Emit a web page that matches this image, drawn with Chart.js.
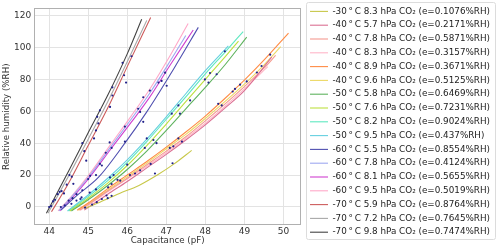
<!DOCTYPE html>
<html><head><meta charset="utf-8">
<script src="https://cdn.jsdelivr.net/npm/chart.js@4.4.1/dist/chart.umd.min.js"></script>
<style>html,body{margin:0;padding:0;background:#fff}#w{width:500px;height:250px;position:relative}</style>
</head><body><div id="w"><canvas id="c" width="500" height="250"></canvas></div>
<script>
// ---- tick labels ----
const xTicks = [44, 45, 46, 47, 48, 49, 50];
const yTicks = [0, 20, 40, 60, 80, 100, 120];

// ---- series labels & colours ----
const seriesLabels = [
  "-30\u2009°\u2009C 8.3 hPa CO\u2082 (e=0.1076%RH)",
  "-40\u2009°\u2009C 5.7 hPa CO\u2082 (e=0.2171%RH)",
  "-40\u2009°\u2009C 7.8 hPa CO\u2082 (e=0.5871%RH)",
  "-40\u2009°\u2009C 8.3 hPa CO\u2082 (e=0.3157%RH)",
  "-40\u2009°\u2009C 8.9 hPa CO\u2082 (e=0.3671%RH)",
  "-40\u2009°\u2009C 9.6 hPa CO\u2082 (e=0.5125%RH)",
  "-50\u2009°\u2009C 5.8 hPa CO\u2082 (e=0.6469%RH)",
  "-50\u2009°\u2009C 7.6 hPa CO\u2082 (e=0.7231%RH)",
  "-50\u2009°\u2009C 8.2 hPa CO\u2082 (e=0.9024%RH)",
  "-50\u2009°\u2009C 9.5 hPa CO\u2082 (e=0.437%RH)",
  "-60\u2009°\u2009C 5.5 hPa CO\u2082 (e=0.8554%RH)",
  "-60\u2009°\u2009C 7.8 hPa CO\u2082 (e=0.4124%RH)",
  "-60\u2009°\u2009C 8.1 hPa CO\u2082 (e=0.5655%RH)",
  "-60\u2009°\u2009C 9.5 hPa CO\u2082 (e=0.5019%RH)",
  "-70\u2009°\u2009C 5.9 hPa CO\u2082 (e=0.8764%RH)",
  "-70\u2009°\u2009C 7.2 hPa CO\u2082 (e=0.7645%RH)",
  "-70\u2009°\u2009C 9.8 hPa CO\u2082 (e=0.7474%RH)"
];
const seriesColors = [
  "#c8c84a", "#db7093", "#f59a90", "#ffb6c8", "#ff8c45", "#ecd865",
  "#5fb35f", "#bde040", "#5ee8c0", "#66d0e0",
  "#5050b0", "#9fa8f0", "#d040d0", "#ffa8c8",
  "#cd5c5c", "#a8a8a8", "#444444"
];

// ---- fitted curves [capacitance pF, RH %] ----
const fitM30_83 = [[44.9,-1],[45.3,3],[45.8,8.5],[46.3,13.5],[46.8,20.5],[47.2,27],[47.65,35.5]];
const fitM40_57 = [[44.9,-2],[45.5,8],[46.0,16],[46.5,24.5],[47.0,33],[47.5,42],[48.0,51.5],[48.5,62],[49.0,73],[49.7,94]];
const fitM40_78 = [[44.78,-2],[45.0,1.5],[45.5,10],[46.0,18],[46.5,26.5],[47.0,35],[47.5,44],[48.0,54],[48.5,64.5],[49.0,75.5],[49.5,87],[49.8,95]];
const fitM40_83 = [[44.8,-2],[45.0,1],[45.5,9.5],[46.0,17.5],[46.5,25.5],[47.0,34],[47.5,43],[48.0,52.5],[48.5,63],[49.0,74],[49.6,88]];
const fitM40_89 = [[44.72,-2],[45.0,2.5],[45.5,11.5],[46.0,20],[46.5,28.5],[47.0,37.5],[47.5,47],[48.0,57],[48.5,68],[49.0,79.5],[49.5,92],[50.13,109]];
const fitM40_96 = [[44.75,-2],[45.0,2],[45.5,10.5],[46.0,19],[46.5,27.5],[47.0,36.5],[47.5,45.5],[48.0,55.5],[48.5,66],[49.0,77],[49.5,89],[49.93,100.5]];
const fitM50_58 = [[44.57,-2.5],[45.0,4.5],[45.5,13.5],[46.0,23.5],[46.5,35],[47.0,48],[47.5,61.5],[48.0,75],[48.5,89],[49.06,106.5]];
const fitM50_76 = [[44.53,-2.5],[45.0,5.5],[45.5,15],[46.0,26],[46.5,38.5],[47.0,52],[47.5,66],[48.0,80],[48.5,94],[48.85,104]];
const fitM50_82 = [[44.5,-2.5],[45.0,6.5],[45.5,16.5],[46.0,28],[46.5,41],[47.0,55],[47.5,69],[48.0,83.5],[48.5,97],[48.97,110]];
const fitM50_95 = [[44.47,-2.5],[45.0,7.5],[45.5,18],[46.0,29.5],[46.5,42.5],[47.0,56.5],[47.5,71],[48.0,85.5],[48.59,101]];
const fitM60_55 = [[44.3,-2],[44.7,7],[45.26,18.5],[45.94,40],[46.5,59.6],[47.2,87],[47.82,112.6]];
const fitM60_78 = [[44.25,-2.5],[44.6,7],[45.0,18.5],[45.6,38.5],[46.1,55],[46.58,71.5],[47.1,91.5],[47.5,107.5]];
const fitM60_81 = [[44.27,-2.5],[44.6,6],[45.0,17.5],[45.6,37],[46.1,53],[46.58,69],[47.1,89],[47.69,111]];
const fitM60_95 = [[44.23,-2.5],[44.6,7.5],[45.0,19.5],[45.6,40],[46.1,57],[46.58,74],[47.1,95],[47.56,115]];
const fitM70_59 = [[44.06,-3],[44.5,15],[45.0,38.5],[45.5,62],[46.0,88],[46.6,118.8]];
const fitM70_72 = [[43.97,-4],[44.5,19.5],[45.0,42.5],[45.5,66],[46.0,91],[46.5,117]];
const fitM70_98 = [[43.93,-4],[44.5,22.5],[45.0,46.5],[45.5,70],[46.0,96],[46.37,117.7]];

const seriesFits = [fitM30_83, fitM40_57, fitM40_78, fitM40_83, fitM40_89, fitM40_96,
  fitM50_58, fitM50_76, fitM50_82, fitM50_95, fitM60_55, fitM60_78, fitM60_81, fitM60_95,
  fitM70_59, fitM70_72, fitM70_98];

// ---- measured points [capacitance pF, RH %] ----
const measuredPoints = [
  [44.0,0],[44.05,0.5],[44.1,3.5],[44.15,4.5],[44.22,8],[44.27,9.5],[44.32,10],[44.38,8.5],[44.45,14],[44.52,20],[44.58,19],[44.62,14.5],
  [44.85,40],[44.9,35],[44.95,29],[45.15,43],[45.2,48],[45.23,56.5],[45.26,52.4],[45.3,60.6],[45.56,62.7],[45.62,69.9],[45.62,75],
  [45.88,90.4],[45.92,82.6],[45.97,78],[46.11,94.5],
  [44.3,0],[44.4,1],[44.5,4],[44.6,5.5],[44.7,8],[44.8,5],[44.85,10.5],[45.0,17.5],[45.05,19.5],[45.2,20],[45.3,27],[45.35,26],
  [45.45,34],[45.55,40.5],[45.6,37],[45.94,41],[45.94,50.4],[46.28,61.6],[46.33,59.6],[46.41,53.4],[46.41,68.8],[46.58,73],
  [46.8,78],[46.88,79],[46.97,84.2],[47.01,76],
  [44.57,2],[44.7,4],[44.83,6],[45.04,9],[45.2,11],[45.51,12.3],[45.6,14.4],[45.56,18.5],[45.65,20],[45.75,17],[46.0,26.5],
  [46.45,37],[46.5,43],[46.67,42],[46.75,40],[47.14,58.5],[47.31,63.7],[47.35,58.5],[47.61,66.8],[47.99,80],[48.08,78],
  [48.12,84],[48.29,83.2],[48.5,97.6],
  [44.92,-0.4],[45.1,1.5],[45.22,3],[45.35,5],[45.47,7.2],[45.6,7],[45.82,16.5],[46.07,20],[46.2,21],[46.33,23],[46.6,27],
  [47.09,37],[47.18,38],[47.31,43],[47.4,41],[48.33,64.7],[48.42,63.7],[48.7,72.4],[48.76,74],[48.89,76.7],[49.06,78.7],
  [49.32,84.3],[49.44,88.4],[49.66,95.5],
  [45.5,5.5],[46.71,21],[47.16,27.4]
];

const FONT = "'DejaVu Sans', sans-serif";
const datasets = seriesFits.map((pts, i) => ({
  label: seriesLabels[i],
  data: pts.map(p => ({x: p[0], y: p[1]})),
  showLine: true,
  borderColor: seriesColors[i],
  backgroundColor: seriesColors[i],
  borderWidth: 1.1,
  pointRadius: 0,
  pointStyle: 'line',
  cubicInterpolationMode: 'monotone',
  order: 1
}));
datasets.push({
  label: 'points',
  data: measuredPoints.map(p => ({x: p[0], y: p[1]})),
  showLine: false,
  pointRadius: 1.1,
  pointBorderWidth: 0,
  backgroundColor: '#22228a',
  borderColor: '#22228a',
  order: 0
});

const framePlugin = {
  id: 'frame',
  afterDraw(chart) {
    const {ctx, chartArea: a} = chart;
    ctx.save();
    ctx.strokeStyle = '#b0b0b0';
    ctx.lineWidth = 1;
    ctx.strokeRect(Math.round(a.left) + 0.5, Math.round(a.top) + 0.5,
      Math.round(a.right - a.left) - 1, Math.round(a.bottom - a.top) - 1);
    const lg = chart.legend;
    ctx.strokeStyle = '#dcdcdc';
    const x0 = Math.round(lg.left) + 1.5, y0 = 2.5, x1 = 495.5, y1 = 239.5, r = 2;
    ctx.beginPath();
    ctx.moveTo(x0 + r, y0); ctx.lineTo(x1 - r, y0); ctx.arcTo(x1, y0, x1, y0 + r, r);
    ctx.lineTo(x1, y1 - r); ctx.arcTo(x1, y1, x1 - r, y1, r);
    ctx.lineTo(x0 + r, y1); ctx.arcTo(x0, y1, x0, y1 - r, r);
    ctx.lineTo(x0, y0 + r); ctx.arcTo(x0, y0, x0 + r, y0, r);
    ctx.stroke();
    ctx.restore();
  }
};

new Chart(document.getElementById('c'), {
  type: 'scatter',
  data: {datasets},
  options: {
    responsive: false,
    animation: false,
    devicePixelRatio: 1,
    layout: {padding: {top: 2, left: 0, right: 0, bottom: 0}},
    plugins: {
      tooltip: {enabled: false},
      legend: {
        position: 'right',
        align: 'start',
        maxWidth: 300,
        labels: {
          filter: item => item.text !== 'points',
          usePointStyle: true,
          pointStyle: 'line',
          pointStyleWidth: 18,
          padding: 5,
          color: '#222',
          font: {family: FONT, size: 8.8}
        }
      }
    },
    scales: {
      x: {
        type: 'linear', position: 'bottom', min: 43.62, max: 50.45,
        afterBuildTicks: s => { s.ticks = xTicks.map(v => ({value: v})); },
        afterFit: s => { s.height = 25; },
        grid: {color: '#e3e3e3', drawTicks: false},
        border: {display: false},
        ticks: {color: '#333', font: {family: FONT, size: 9}, padding: 1.5, maxRotation: 0},
        title: {display: true, text: 'Capacitance (pF)', color: '#333', font: {family: FONT, size: 8.7}, padding: {top: 0, bottom: 4}}
      },
      y: {
        type: 'linear', position: 'left', min: -11.3, max: 124.5,
        afterBuildTicks: s => { s.ticks = yTicks.map(v => ({value: v})); },
        afterFit: s => { s.width = 34.3; },
        grid: {color: '#e3e3e3', drawTicks: false},
        border: {display: false},
        ticks: {color: '#333', font: {family: FONT, size: 9}, padding: 3},
        title: {display: true, text: 'Relative humidity (%RH)', color: '#333', font: {family: FONT, size: 8.7}, padding: {top: 1.5, bottom: 0}}
      },
      xTop: {
        type: 'linear', position: 'top', display: true,
        grid: {display: false}, border: {display: false}, ticks: {display: false},
        afterFit: s => { s.height = 2.7; }
      },
      yRight: {
        type: 'linear', position: 'right', display: true,
        grid: {display: false}, border: {display: false}, ticks: {display: false},
        afterFit: s => { s.width = Math.max(0, 199 - s.chart.legend.width); }
      }
    }
  },
  plugins: [framePlugin]
});
</script>
</body></html>
